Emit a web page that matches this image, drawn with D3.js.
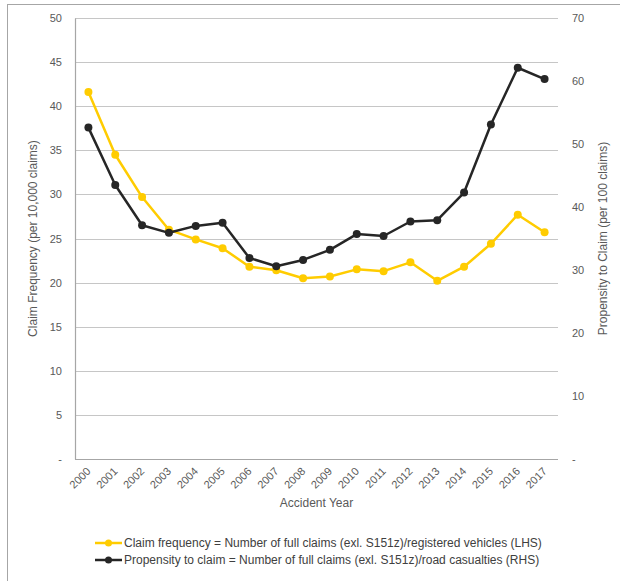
<!DOCTYPE html>
<html>
<head>
<meta charset="utf-8">
<script src="https://cdn.jsdelivr.net/npm/d3@7/dist/d3.min.js"></script>
<style>
  html, body { margin: 0; padding: 0; background: #fff; }
  svg { display: block; font-family: "Liberation Sans", Arial, sans-serif; }
</style>
</head>
<body>
<svg id="chart" width="620" height="581"></svg>
<script>
// Accident years on the x axis
const years = ["2000","2001","2002","2003","2004","2005","2006","2007","2008",
               "2009","2010","2011","2012","2013","2014","2015","2016","2017"];

// Claim frequency per 10,000 registered vehicles (left axis)
const claimFrequency = [41.6, 34.5, 29.7, 26.0, 24.9, 23.9, 21.8, 21.4, 20.5,
                        20.7, 21.5, 21.3, 22.3, 20.2, 21.8, 24.4, 27.7, 25.7];

// Propensity to claim per 100 road casualties (right axis)
const propensity = [52.6, 43.5, 37.1, 35.9, 37.0, 37.5, 31.9, 30.6, 31.6,
                    33.2, 35.7, 35.4, 37.7, 37.9, 42.3, 53.1, 62.1, 60.3];

const leftTicks = [0, 5, 10, 15, 20, 25, 30, 35, 40, 45, 50];
const rightTicks = [0, 10, 20, 30, 40, 50, 60, 70];

const legendLabels = [
  "Claim frequency = Number of full claims (exl. S151z)/registered vehicles (LHS)",
  "Propensity to claim = Number of full claims (exl. S151z)/road casualties (RHS)"
];
const seriesColors = ["#FFCC00", "#262626"];

const svg = d3.select("#chart");
const margin = { left: 75, right: 62, top: 18, bottom: 122 };
const W = 620, H = 581;
const plotW = W - margin.left - margin.right;
const plotH = H - margin.top - margin.bottom;

// Outer chart frame
svg.append("rect")
  .attr("x", 7.5).attr("y", 4.5)
  .attr("width", 640).attr("height", 640)
  .attr("fill", "none").attr("stroke", "#a6a6a6").attr("stroke-width", 1);

const g = svg.append("g").attr("transform", `translate(${margin.left},${margin.top})`);

const x = d3.scaleBand().domain(years).range([0, plotW]);
const yL = d3.scaleLinear().domain([0, 50]).range([plotH, 0]);
const yR = d3.scaleLinear().domain([0, 70]).range([plotH, 0]);
const cx = d => x(d) + x.bandwidth() / 2;

const fmt = v => v === 0 ? "-" : String(v);

// Horizontal gridlines
g.append("g")
  .selectAll("line")
  .data(leftTicks.filter(t => t > 0))
  .join("line")
  .attr("x1", 0).attr("x2", plotW)
  .attr("y1", d => Math.round(yL(d)) + 0.5).attr("y2", d => Math.round(yL(d)) + 0.5)
  .attr("stroke", "#c6c6c6").attr("stroke-width", 1.2);

// Left axis
const leftAxis = g.append("g")
  .call(d3.axisLeft(yL).tickValues(leftTicks).tickFormat(fmt).tickSize(0).tickPadding(13));
leftAxis.select(".domain").attr("stroke", "#a6a6a6").attr("stroke-width", 1.2);
leftAxis.selectAll("text").attr("fill", "#595959").style("font-size", "11px");

// Right axis
const rightAxis = g.append("g")
  .attr("transform", `translate(${plotW},0)`)
  .call(d3.axisRight(yR).tickValues(rightTicks).tickFormat(fmt).tickSize(0).tickPadding(14));
rightAxis.select(".domain").remove();
rightAxis.selectAll("text").attr("fill", "#595959").style("font-size", "11px");

// Bottom baseline
g.append("line")
  .attr("x1", 0).attr("x2", plotW)
  .attr("y1", plotH + 0.5).attr("y2", plotH + 0.5)
  .attr("stroke", "#a6a6a6").attr("stroke-width", 1.2);

// X axis with rotated year labels
const xAxis = g.append("g")
  .attr("transform", `translate(0,${plotH})`)
  .call(d3.axisBottom(x).tickSize(0).tickPadding(0));
xAxis.select(".domain").remove();
xAxis.selectAll("text")
  .attr("fill", "#595959").style("font-size", "11px")
  .attr("text-anchor", "end")
  .attr("dy", 0)
  .attr("transform", "translate(3,13) rotate(-45)");

// Axis titles
svg.append("text")
  .attr("transform", `translate(37,${margin.top + plotH / 2}) rotate(-90)`)
  .attr("text-anchor", "middle")
  .attr("fill", "#595959").style("font-size", "12px")
  .text("Claim Frequency (per 10,000 claims)");

svg.append("text")
  .attr("transform", `translate(607,${margin.top + plotH / 2}) rotate(-90)`)
  .attr("text-anchor", "middle")
  .attr("fill", "#595959").style("font-size", "12px")
  .text("Propensity to Claim (per 100 claims)");

svg.append("text")
  .attr("x", margin.left + plotW / 2).attr("y", 507)
  .attr("text-anchor", "middle")
  .attr("fill", "#595959").style("font-size", "12px")
  .text("Accident Year");

// Series lines and markers
const series = [
  { values: claimFrequency, scale: yL, color: seriesColors[0] },
  { values: propensity, scale: yR, color: seriesColors[1] }
];

series.forEach(s => {
  const pts = years.map((yr, i) => [cx(yr), s.scale(s.values[i])]);
  g.append("path")
    .attr("d", d3.line()(pts))
    .attr("fill", "none")
    .attr("stroke", s.color)
    .attr("stroke-width", 2.5)
    .attr("stroke-linejoin", "round");
  g.append("g")
    .selectAll("circle")
    .data(pts)
    .join("circle")
    .attr("cx", d => d[0]).attr("cy", d => d[1])
    .attr("r", 4)
    .attr("fill", s.color);
});

// Legend
const legend = svg.append("g").attr("transform", "translate(95,543)");
legendLabels.forEach((label, i) => {
  const row = legend.append("g").attr("transform", `translate(0,${i * 17})`);
  row.append("line")
    .attr("x1", 0).attr("x2", 27).attr("y1", 0).attr("y2", 0)
    .attr("stroke", seriesColors[i]).attr("stroke-width", 2.5);
  row.append("circle")
    .attr("cx", 13.5).attr("cy", 0).attr("r", 3.5)
    .attr("fill", seriesColors[i]);
  row.append("text")
    .attr("x", 29).attr("y", 4)
    .attr("fill", "#404040").style("font-size", "12px")
    .text(label);
});
</script>
</body>
</html>
